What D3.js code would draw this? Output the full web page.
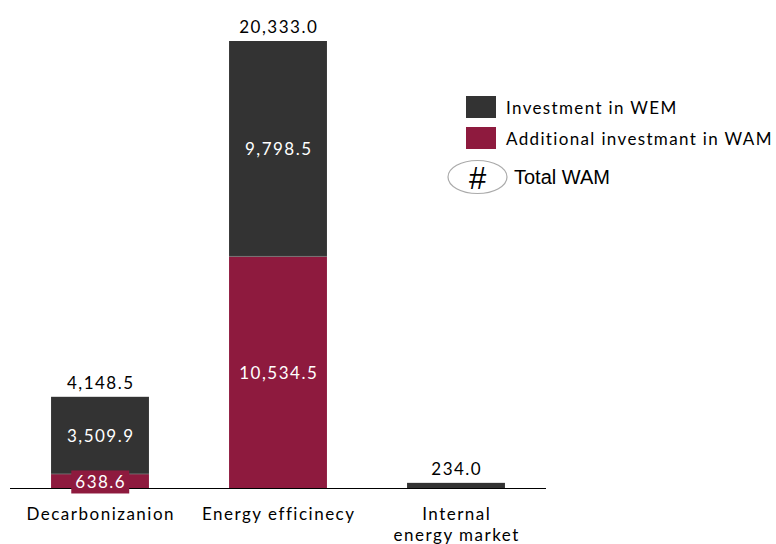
<!DOCTYPE html>
<html>
<head>
<meta charset="utf-8">
<script src="https://cdn.jsdelivr.net/npm/d3@7"></script>
<style>
  html, body { margin: 0; padding: 0; background: #fff; }
  svg { display: block; }
</style>
</head>
<body>
<svg id="chart" width="776" height="544"></svg>
<script>
// Investment by dimension: WEM base plus additional WAM investment
const categories = ["Decarbonizanion", "Energy efficinecy", "Internal\nenergy market"];
const wemValues = [3509.9, 9798.5, 234.0];
const wamAdditional = [638.6, 10534.5, 0];
const totalWam = [4148.5, 20333.0, 234.0];
const seriesNames = ["Investment in WEM", "Additional investmant in WAM"];

const colDark = "#333333";
const colRed = "#8E1A3E";
const font = "Lato, 'Open Sans', sans-serif";
const spacing = 1.5;

const svg = d3.select("#chart");
const baseY = 488;
const topY = 41;

const x = d3.scaleBand().domain(categories).range([11, 545]).paddingInner(0.45).paddingOuter(0.225);
const y = d3.scaleLinear().domain([0, d3.max(totalWam)]).range([baseY, topY]);

const fmt = d3.format(",.1f");

const rows = categories.map((c, i) => ({ cat: c, wam: wamAdditional[i], wem: wemValues[i], total: totalWam[i] }));
const stack = d3.stack().keys(["wam", "wem"])(rows);

const g = svg.append("g");

function label(sel) {
  return sel.attr("font-family", font).attr("font-size", 17).attr("letter-spacing", spacing);
}

// stacked segments: additional WAM at the bottom, WEM on top
stack.forEach(layer => {
  g.selectAll(null)
    .data(layer.filter(d => d[1] > d[0]))
    .enter().append("rect")
    .attr("x", d => x(d.data.cat))
    .attr("width", x.bandwidth())
    .attr("y", d => y(d[1]))
    .attr("height", d => y(d[0]) - y(d[1]))
    .attr("fill", layer.key === "wam" ? colRed : colDark);
});

// thin separators between segments
rows.forEach(r => {
  if (r.wam > 0 && r.wem > 0) {
    g.append("line")
      .attr("x1", x(r.cat)).attr("x2", x(r.cat) + x.bandwidth())
      .attr("y1", y(r.wam)).attr("y2", y(r.wam))
      .attr("stroke", "#777").attr("stroke-width", 0.8);
  }
});

// axis baseline
g.append("line")
  .attr("x1", 10).attr("x2", 546)
  .attr("y1", baseY + 0.5).attr("y2", baseY + 0.5)
  .attr("stroke", "#000").attr("stroke-width", 1.2);

// segment value labels
rows.forEach(r => {
  const cx = x(r.cat) + x.bandwidth() / 2 + spacing / 2;
  if (r.wam > 0) {
    const small = (y(0) - y(r.wam)) < 24;
    const cy = small ? y(r.wam / 2) + 1 : (y(0) + y(r.wam)) / 2;
    const t = label(g.append("text"))
      .attr("x", cx).attr("y", cy)
      .attr("text-anchor", "middle").attr("dominant-baseline", "central")
      .attr("fill", "#fff")
      .text(fmt(r.wam));
    if (small) {
      const bb = t.node().getBBox();
      g.insert("rect", () => t.node())
        .attr("x", bb.x - 4).attr("y", cy - 11.5)
        .attr("width", bb.width + 7).attr("height", 23)
        .attr("fill", colRed);
    }
  }
  if (r.wam > 0 && r.wem > 0) {
    label(g.append("text"))
      .attr("x", cx).attr("y", (y(r.wam) + y(r.wam + r.wem)) / 2)
      .attr("text-anchor", "middle").attr("dominant-baseline", "central")
      .attr("fill", "#fff")
      .text(fmt(r.wem));
  }
  // total above the bar
  label(g.append("text"))
    .attr("x", cx).attr("y", y(r.total) - 8)
    .attr("text-anchor", "middle")
    .attr("fill", "#000")
    .text(fmt(r.total));
});

// category labels
categories.forEach(c => {
  const lines = c.split("\n");
  const cx = x(c) + x.bandwidth() / 2 + spacing / 2;
  const t = label(g.append("text"))
    .attr("x", cx).attr("y", 520)
    .attr("text-anchor", "middle")
    .attr("fill", "#000");
  lines.forEach((ln, k) => {
    t.append("tspan").attr("x", cx).attr("dy", k === 0 ? 0 : 21).text(ln);
  });
});

// legend
const lg = svg.append("g");
[colDark, colRed].forEach((col, i) => {
  lg.append("rect").attr("x", 466).attr("y", 96 + i * 31).attr("width", 30).attr("height", 22).attr("fill", col);
  lg.append("text").attr("x", 506).attr("y", 107 + i * 31)
    .attr("dominant-baseline", "central")
    .attr("font-family", font).attr("font-size", 17).attr("letter-spacing", 1.35).attr("fill", "#000")
    .text(seriesNames[i]);
});
lg.append("ellipse").attr("cx", 477.5).attr("cy", 177).attr("rx", 29.5).attr("ry", 16.5)
  .attr("fill", "#fff").attr("stroke", "#aaa").attr("stroke-width", 1.2);
lg.append("text").attr("x", 477.5).attr("y", 178)
  .attr("text-anchor", "middle").attr("dominant-baseline", "central")
  .attr("font-family", "'Liberation Sans', Arial, sans-serif").attr("font-size", 31).attr("fill", "#000")
  .text("#");
lg.append("text").attr("x", 514).attr("y", 177)
  .attr("dominant-baseline", "central")
  .attr("font-family", "'Liberation Sans', Arial, sans-serif").attr("font-size", 20).attr("fill", "#000")
  .text("Total WAM");
</script>
</body>
</html>
